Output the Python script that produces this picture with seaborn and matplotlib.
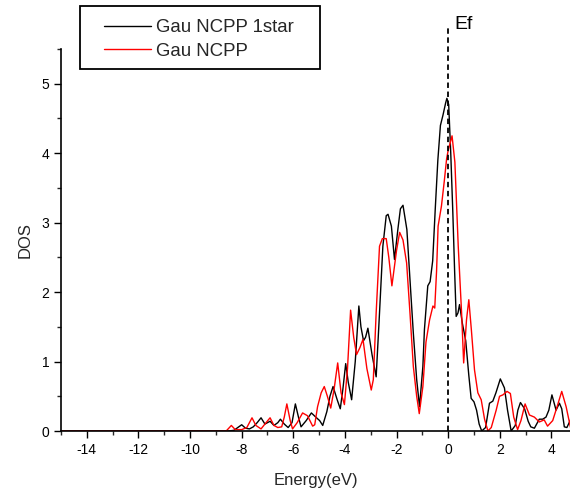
import numpy as np
import pandas as pd
import matplotlib
matplotlib.use("Agg")
import matplotlib.pyplot as plt
from matplotlib.patches import Rectangle
import seaborn as sns

series_names = ["Gau NCPP 1star", "Gau NCPP"]
series_colors = ["black", "red"]
ef_energy = 0.0
ef_label = "Ef"
x_label = "Energy(eV)"
y_label = "DOS"
x_ticks = [-14, -12, -10, -8, -6, -4, -2, 0, 2, 4]
y_ticks = [0, 1, 2, 3, 4, 5]

energy_1star = [-15, -9.0, -8.5, -8.3, -8.15, -8.0, -7.85, -7.7, -7.55, -7.4, -7.25, -7.1, -6.9, -6.75,
                -6.6, -6.5, -6.35, -6.2, -6.05, -5.92, -5.8, -5.7, -5.5, -5.3, -5.1, -4.98, -4.86, -4.7,
                -4.58, -4.46, -4.3, -4.18, -4.08, -3.97, -3.87, -3.74, -3.6, -3.46, -3.38, -3.28, -3.2,
                -3.11, -2.95, -2.79, -2.66, -2.53, -2.4, -2.33, -2.2, -2.08, -1.95, -1.85, -1.75, -1.6,
                -1.48, -1.35, -1.22, -1.11, -0.98, -0.92, -0.79, -0.7, -0.6, -0.5, -0.4, -0.3, -0.2, -0.1,
                -0.05, 0.02, 0.1, 0.18, 0.25, 0.31, 0.38, 0.44, 0.55, 0.68, 0.8, 0.89, 1.0, 1.1, 1.2, 1.3,
                1.45, 1.6, 1.73, 1.85, 2.02, 2.18, 2.3, 2.44, 2.6, 2.7, 2.8, 2.96, 3.1, 3.2, 3.34, 3.53,
                3.66, 3.79, 3.9, 4.02, 4.18, 4.31, 4.4, 4.5, 4.6, 4.75]
dos_1star = [0, 0, 0, 0.01, 0.05, 0.09, 0.04, 0.03, 0.06, 0.12, 0.19, 0.1, 0.14, 0.08,
             0.12, 0.17, 0.1, 0.05, 0.12, 0.39, 0.2, 0.06, 0.15, 0.26, 0.19, 0.15, 0.08, 0.28,
             0.5, 0.64, 0.45, 0.32, 0.6, 0.97, 0.7, 0.45, 1.0, 1.8, 1.5, 1.3, 1.35,
             1.48, 1.1, 0.78, 1.7, 2.66, 3.1, 3.12, 2.95, 2.47, 2.9, 3.2, 3.25, 2.9,
             2.18, 1.41, 0.74, 0.35, 0.93, 1.46, 2.09, 2.15, 2.45, 3.2, 3.9, 4.4, 4.55, 4.72,
             4.79, 4.7, 4.0, 3.15, 2.3, 1.65, 1.7, 1.82, 1.55, 1.3, 0.8, 0.47, 0.42, 0.3, 0.1, 0.0,
             0.05, 0.4, 0.43, 0.55, 0.75, 0.62, 0.3, 0.0, 0.08, 0.3, 0.41, 0.32, 0.14, 0.06, 0.04, 0.17,
             0.17, 0.2, 0.3, 0.52, 0.3, 0.4, 0.32, 0.06, 0.05, 0.17]

energy_ncpp = [-15, -8.6, -8.4, -8.25, -8.0, -7.8, -7.6, -7.45, -7.25, -7.1, -6.9, -6.75, -6.6, -6.45,
               -6.35, -6.25, -6.12, -6.03, -5.85, -5.64, -5.45, -5.25, -5.17, -5.06, -4.92, -4.8, -4.68,
               -4.55, -4.42, -4.28, -4.15, -4.02, -3.9, -3.78, -3.66, -3.55, -3.42, -3.3, -3.15, -2.98,
               -2.9, -2.79, -2.66, -2.55, -2.4, -2.3, -2.18, -2.0, -1.88, -1.75, -1.61, -1.48, -1.35,
               -1.22, -1.12, -0.98, -0.86, -0.72, -0.59, -0.52, -0.45, -0.39, -0.26, -0.15, -0.06, 0.0,
               0.08, 0.15, 0.26, 0.39, 0.52, 0.6, 0.71, 0.8, 0.9, 1.02, 1.15, 1.28, 1.41, 1.54, 1.67,
               1.86, 1.99, 2.12, 2.28, 2.41, 2.54, 2.69, 2.82, 2.98, 3.15, 3.34, 3.53, 3.72, 3.85, 4.05,
               4.22, 4.4, 4.57, 4.74]
dos_ncpp = [0, 0, 0.08, 0.02, 0.02, 0.05, 0.19, 0.08, 0.03, 0.1, 0.19, 0.08, 0.05, 0.06,
            0.2, 0.39, 0.15, 0.03, 0.12, 0.26, 0.22, 0.07, 0.09, 0.35, 0.55, 0.64, 0.5,
            0.33, 0.6, 0.98, 0.55, 0.38, 0.9, 1.74, 1.35, 1.1, 1.2, 1.32, 0.9, 0.59,
            0.74, 1.7, 2.66, 2.77, 2.77, 2.5, 2.09, 2.6, 2.86, 2.75, 2.42, 1.7, 0.93,
            0.5, 0.25, 0.64, 1.28, 1.6, 1.8, 1.77, 2.3, 2.95, 3.24, 3.6, 3.92, 4.04,
            4.15, 4.25, 3.87, 2.66, 1.7, 0.98, 1.6, 1.89, 1.45, 0.88, 0.55, 0.45, 0.17, 0.0, 0.05,
            0.3, 0.5, 0.52, 0.57, 0.54, 0.2, 0.02, 0.15, 0.39, 0.23, 0.2, 0.13, 0.16, 0.07, 0.15,
            0.35, 0.57, 0.35, 0.05]

df = pd.concat([
    pd.DataFrame({"Energy": energy_1star, "DOS": dos_1star, "series": series_names[0]}),
    pd.DataFrame({"Energy": energy_ncpp, "DOS": dos_ncpp, "series": series_names[1]}),
], ignore_index=True)

sns.set_style("ticks")
plt.rcParams["font.family"] = ["Liberation Sans", "DejaVu Sans"]
plt.rcParams["axes.unicode_minus"] = False

W, H = 570, 494
fig = plt.figure(figsize=(W / 100, H / 100), dpi=100)
ax = fig.add_axes([61 / W, 63 / H, 1 - 61 / W, (431 - 49) / H])

sns.lineplot(data=df, x="Energy", y="DOS", hue="series", hue_order=series_names,
             palette=dict(zip(series_names, series_colors)), estimator=None, sort=False,
             linewidth=1.0, ax=ax)

ax.set_xlim(-15, 4.72)
ax.set_ylim(0, 5.5)
ax.set_xticks(x_ticks)
ax.set_yticks(y_ticks)
ax.set_xticks(np.arange(-15, 5, 1), minor=True)
ax.set_yticks(np.arange(0, 5.6, 0.5), minor=True)
ax.tick_params(axis="both", which="major", direction="out", length=5, width=1, labelsize=10, colors="black")
ax.tick_params(axis="both", which="minor", direction="out", length=3, width=1)
for s in ["top", "right"]:
    ax.spines[s].set_visible(False)
for s in ["left", "bottom"]:
    ax.spines[s].set_linewidth(1.2)
    ax.spines[s].set_color("black")

ax.set_xlabel(x_label, fontsize=12, labelpad=12)
ax.set_ylabel(y_label, fontsize=12, labelpad=6)

# Fermi level marker
ax.plot([ef_energy, ef_energy], [0, 5.84], ls=(0, (3, 2)), color="black", lw=1.3, clip_on=False)
ax.text(ef_energy + 0.25, 5.85, ef_label, fontsize=14, ha="left", va="center", color="black")

handles, labels = ax.get_legend_handles_labels()
ax.legend(handles=handles, labels=labels, loc="upper left",
          bbox_to_anchor=(104 / W, 1 - 19 / H), bbox_transform=fig.transFigure,
          frameon=False, fontsize=13.4, handlelength=2.5, handletextpad=0.3,
          borderpad=0, labelspacing=0.36, borderaxespad=0, title=None)
fig.patches.append(Rectangle((80 / W, 1 - 69 / H), 240 / W, 63 / H, transform=fig.transFigure,
                             fill=False, edgecolor="black", linewidth=1.3))

fig.savefig("out.png", dpi=100)
